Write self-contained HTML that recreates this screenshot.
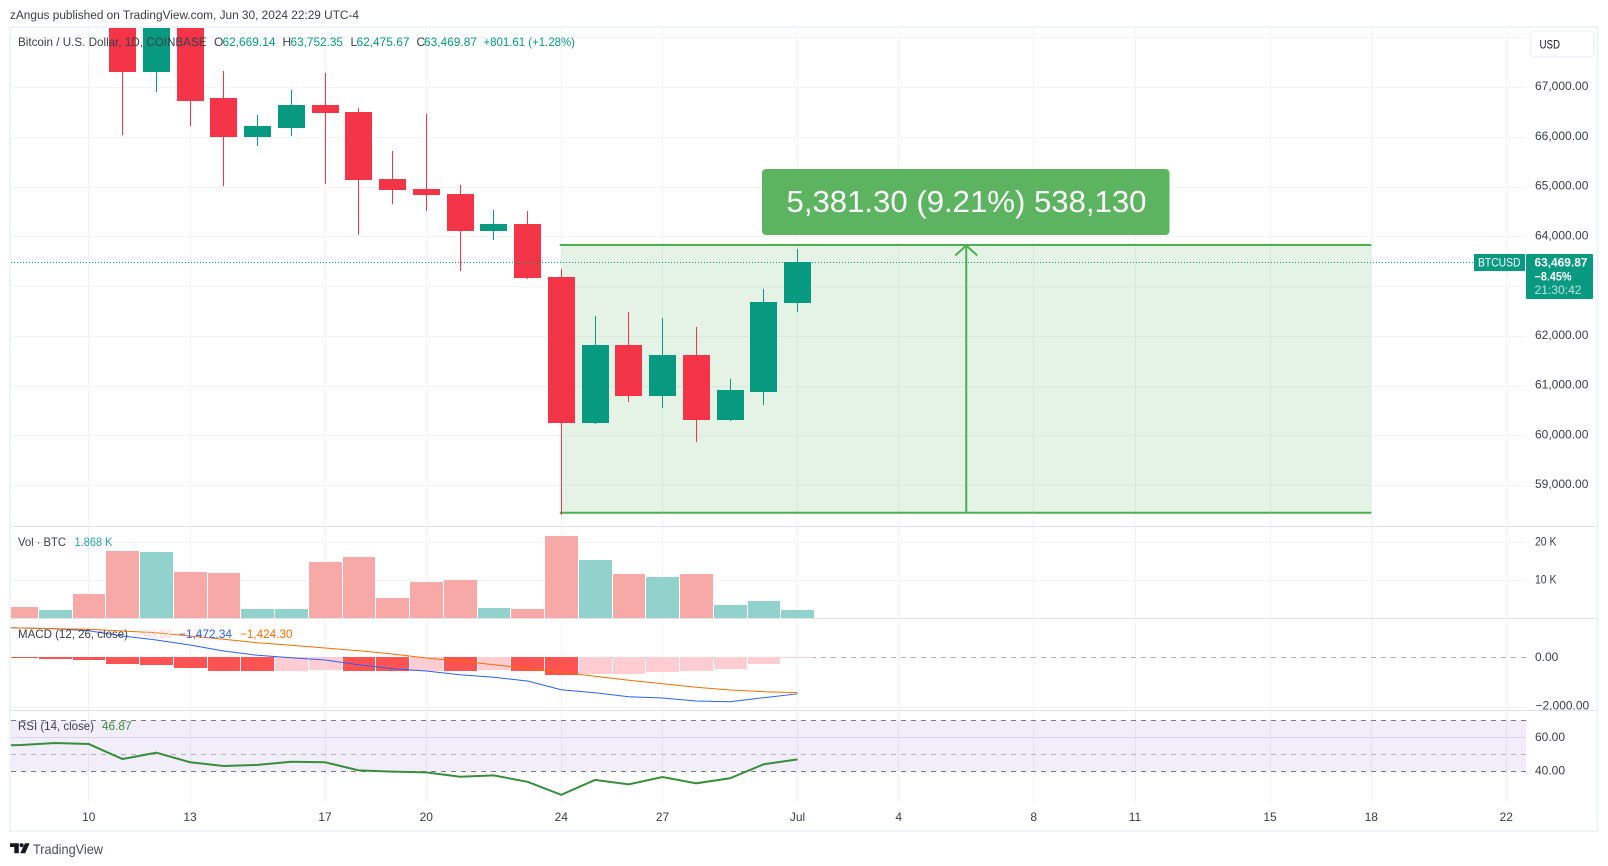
<!DOCTYPE html>
<html lang="en">
<head>
<meta charset="utf-8">
<title>BTCUSD chart</title>
<style>
html,body{margin:0;padding:0;background:#fff;width:1608px;height:866px;overflow:hidden}
svg{display:block;font-family:"Liberation Sans",sans-serif}
text{white-space:pre}
.crisp{shape-rendering:crispEdges}
</style>
</head>
<body>
<svg id="chart" xmlns="http://www.w3.org/2000/svg" width="1608" height="866" viewBox="0 0 1608 866">
  <defs>
    <clipPath id="price-clip"><rect x="11" y="28" width="1515" height="498"/></clipPath>
    <clipPath id="vol-clip"><rect x="11" y="527" width="1515" height="91"/></clipPath>
    <clipPath id="macd-clip"><rect x="11" y="619" width="1515" height="91"/></clipPath>
    <clipPath id="rsi-clip"><rect x="11" y="711" width="1515" height="92"/></clipPath>
  </defs>
  <rect x="0" y="0" width="1608" height="866" fill="#ffffff"/>
  <g id="grid-layer" class="crisp"></g>
  <g id="rsi-band-layer"></g>
  <g id="tool-layer" clip-path="url(#price-clip)"></g>
  <g id="candle-layer" class="crisp" clip-path="url(#price-clip)"></g>
  <g id="vol-layer" class="crisp" clip-path="url(#vol-clip)"></g>
  <g id="macd-layer" clip-path="url(#macd-clip)"></g>
  <g id="rsi-layer" clip-path="url(#rsi-clip)"></g>
  <g id="axis-layer"></g>

  <rect class="crisp" x="11" y="526" width="1586" height="1" fill="#e0e3eb"/>
  <rect class="crisp" x="11" y="618" width="1586" height="1" fill="#e0e3eb"/>
  <rect class="crisp" x="11" y="710" width="1586" height="1" fill="#e0e3eb"/>
  <rect class="crisp" x="10" y="27" width="1587.5" height="804" fill="none" stroke="#f0f3fa" stroke-width="2"/>

  <text x="10" y="19" font-size="11.5" fill="#3a3e48" textLength="349" lengthAdjust="spacingAndGlyphs">zAngus published on TradingView.com, Jun 30, 2024 22:29 UTC-4</text>

  <g font-size="12">
    <text x="18" y="46" fill="#3a3e48" textLength="188.5" lengthAdjust="spacingAndGlyphs">Bitcoin / U.S. Dollar, 1D, COINBASE</text>
    <text x="214" y="46" fill="#3a3e48">O</text>
    <text x="222.5" y="46" fill="#089981" textLength="53" lengthAdjust="spacingAndGlyphs">62,669.14</text>
    <text x="282.5" y="46" fill="#3a3e48">H</text>
    <text x="290.5" y="46" fill="#089981" textLength="52.5" lengthAdjust="spacingAndGlyphs">63,752.35</text>
    <text x="350.5" y="46" fill="#3a3e48">L</text>
    <text x="356.5" y="46" fill="#089981" textLength="53" lengthAdjust="spacingAndGlyphs">62,475.67</text>
    <text x="416.5" y="46" fill="#3a3e48">C</text>
    <text x="424" y="46" fill="#089981" textLength="53" lengthAdjust="spacingAndGlyphs">63,469.87</text>
    <text x="483.5" y="46" fill="#089981" textLength="91.5" lengthAdjust="spacingAndGlyphs">+801.61 (+1.28%)</text>
  </g>

  <g font-size="12">
    <text x="18" y="546" fill="#3a3e48" textLength="48" lengthAdjust="spacingAndGlyphs">Vol · BTC</text>
    <text x="74.5" y="546" fill="#26a69a" textLength="38" lengthAdjust="spacingAndGlyphs">1.868 K</text>
  </g>

  <g font-size="12">
    <text x="18" y="638" fill="#3a3e48" textLength="110" lengthAdjust="spacingAndGlyphs">MACD (12, 26, close)</text>
    <text x="137" y="638" fill="#ffcdd2" textLength="35" lengthAdjust="spacingAndGlyphs">−48.03</text>
    <text x="179" y="638" fill="#2962ff" textLength="53" lengthAdjust="spacingAndGlyphs">−1,472.34</text>
    <text x="240" y="638" fill="#ff6d00" textLength="52.5" lengthAdjust="spacingAndGlyphs">−1,424.30</text>
  </g>

  <g font-size="12">
    <text x="18" y="730" fill="#3a3e48" textLength="76" lengthAdjust="spacingAndGlyphs">RSI (14, close)</text>
    <text x="102" y="730" fill="#388e3c" textLength="29.5" lengthAdjust="spacingAndGlyphs">46.87</text>
  </g>

  <g>
    <rect x="1530.5" y="31" width="63.5" height="26" rx="4" fill="#ffffff" stroke="#f0f3fa" stroke-width="1.6"/>
    <text x="1539.5" y="48.5" font-size="11.5" fill="#131722" textLength="20.5" lengthAdjust="spacingAndGlyphs">USD</text>
  </g>

  <g id="last-price-group">
    <rect class="crisp" x="1474" y="254" width="51" height="17" fill="#089981"/>
    <text x="1478" y="266.5" font-size="12" fill="#ffffff" textLength="42.5" lengthAdjust="spacingAndGlyphs">BTCUSD</text>
    <rect x="1526" y="254" width="67" height="45" rx="1" fill="#089981"/>
    <text x="1534.5" y="266.5" font-size="12" font-weight="700" fill="#ffffff" textLength="53" lengthAdjust="spacingAndGlyphs">63,469.87</text>
    <text x="1534.5" y="280.5" font-size="12" font-weight="700" fill="#ffffff" textLength="37" lengthAdjust="spacingAndGlyphs">−8.45%</text>
    <text x="1534.5" y="294" font-size="12" fill="#ffffff" fill-opacity="0.72" textLength="47" lengthAdjust="spacingAndGlyphs">21:30:42</text>
  </g>

  <g>
    <rect x="762" y="169" width="407.5" height="66" rx="4" fill="#5cb360"/>
    <text x="786.5" y="212" font-size="31" fill="#ffffff" textLength="360" lengthAdjust="spacingAndGlyphs">5,381.30 (9.21%) 538,130</text>
  </g>

  <g>
    <path d="M10 843.2h8.8v10h-4.5v-6.2H10z" fill="#131722"/>
    <circle cx="21.6" cy="845.2" r="2.1" fill="#131722"/>
    <path d="M25 843.2h4.6l-4.4 10h-5z" fill="#131722"/>
    <text x="33" y="854" font-size="14" fill="#4a4e59" textLength="70" lengthAdjust="spacingAndGlyphs">TradingView</text>
  </g>
</svg>

<script>
var dates = ['2024-06-07','2024-06-08','2024-06-09','2024-06-10','2024-06-11','2024-06-12','2024-06-13','2024-06-14','2024-06-15','2024-06-16','2024-06-17','2024-06-18','2024-06-19','2024-06-20','2024-06-21','2024-06-22','2024-06-23','2024-06-24','2024-06-25','2024-06-26','2024-06-27','2024-06-28','2024-06-29','2024-06-30','2024-07-01'];
var opens  = [70800,69350,69310,69650,69500,67307,68250,66759,66001,66182,66638,66483,65150,64936,64835,64112,64246,63167,60252,61800,60809,61613,60307,60880,62669.14];
var highs  = [71900,69500,69700,70150,69560,69999,68400,67322,66437,66940,67281,66578,65714,66457,65030,64528,64508,63342,62397,62477,62357,62176,61131,62940,63752.35];
var lows   = [68500,69200,69200,69200,66035,66905,66216,65016,65820,66021,65056,64025,64654,64514,63308,63931,63147,58402,60226,60674,60554,59870,60293,60614,62475.67];
var closes = [69350,69310,69650,69500,67307,68250,66725,66001,66196,66638,66483,65137,64936,64835,64112,64246,63167,60252,61800,60809,61613,60307,60890,62678,63469.87];
var volumes = [9.0,2.7,1.9,6.1,17.4,17.2,11.9,11.7,2.2,2.2,14.6,15.9,5.1,9.3,9.8,2.4,2.2,21.4,15.1,11.4,10.6,11.4,3.2,4.3,1.868];
var macdHist = [0,-25,-70,-120,-280,-320,-440,-550,-555,-550,-515,-550,-558,-550,-555,-515,-555,-715,-675,-670,-595,-555,-475,-280,-48.03];
var macdLine = [1200,1160,1132,1052,840,680,480,240,68,-28,-120,-308,-468,-560,-708,-812,-960,-1308,-1428,-1588,-1640,-1760,-1788,-1628,-1472.34];
var signalLine = [1200,1160,1132,1108,1040,972,840,708,572,468,360,252,120,-40,-160,-308,-452,-612,-772,-932,-1068,-1212,-1320,-1388,-1424.30];
var rsiValues = [55.1,55.4,56.6,56.0,47.1,50.9,45.2,43.0,43.6,45.5,45.2,40.4,39.6,39.2,36.6,37.4,33.6,25.9,34.7,32.1,36.4,32.7,35.7,44.0,46.87];
var priceTicks = [67000,66000,65000,64000,63000,62000,61000,60000,59000];
var priceTickLabels = ['67,000.00','66,000.00','65,000.00','64,000.00','','62,000.00','61,000.00','60,000.00','59,000.00'];
var priceGridExtra = [68000,63000];
var volTicks = [20,10];
var volTickLabels = ['20 K','10 K'];
var macdTicks = [0,-2000];
var macdTickLabels = ['0.00','−2,000.00'];
var rsiTicks = [60,40];
var rsiTickLabels = ['60.00','40.00'];
var timeTicks = ['2024-06-10','2024-06-13','2024-06-17','2024-06-20','2024-06-24','2024-06-27','2024-07-01','2024-07-04','2024-07-08','2024-07-11','2024-07-15','2024-07-18','2024-07-22'];
var timeTickLabels = ['10','13','17','20','24','27','Jul','4','8','11','15','18','22'];
var measureFrom = 58442.7;
var measureTo = 63824;
var measureStart = '2024-06-24';
var measureEnd = '2024-07-18';
var lastPrice = 63469.87;

var SVGNS = 'http://www.w3.org/2000/svg';
var UP = '#089981', DOWN = '#f43548';
var DAY = 864e5, REF = Date.parse('2024-06-24'), STEP = 33.75;

function xOf(d){ return 561.25 + (Date.parse(d) - REF) / DAY * STEP; }
function yPrice(p){ return 286 - (p - 63000) * 0.04975; }
function yVol(v){ return 617.5 - v * 3.8; }
function yMacd(m){ return 657 - m * 0.025; }
function yRsi(r){ return 737.3 - (r - 60) * 1.685; }
function barLeft(d){ return Math.ceil(xOf(d) - 16.5); }
function barWidth(d){ return Math.ceil(xOf(d) + STEP - 16.5) - barLeft(d) - 1; }

function mk(tag, parent, attrs){
  var el = document.createElementNS(SVGNS, tag);
  for (var k in attrs) el.setAttribute(k, attrs[k]);
  parent.appendChild(el);
  return el;
}
function layer(id){ return document.getElementById(id); }
function lineD(values, yFn){
  return values.map(function(v, i){ return (i ? 'L' : 'M') + xOf(dates[i]).toFixed(2) + ' ' + yFn(v).toFixed(2); }).join(' ');
}

var grid = layer('grid-layer');
timeTicks.forEach(function(d){
  var el = mk('rect', grid, {x: Math.floor(xOf(d)), y: 28, width: 1, height: 775, fill: '#f1f3f6'});
  
  
});
priceTicks.concat(priceGridExtra).forEach(function(p){
  var el = mk('rect', grid, {x: 11, y: Math.round(yPrice(p)), width: 1515, height: 1, fill: '#f1f3f6'});
  
  
});
volTicks.forEach(function(v){
  var el = mk('rect', grid, {x: 11, y: Math.round(yVol(v)), width: 1515, height: 1, fill: '#f1f3f6'});
  
  
});
macdTicks.slice(1).forEach(function(m){
  var el = mk('rect', grid, {x: 11, y: Math.round(yMacd(m)), width: 1515, height: 1, fill: '#f1f3f6'});
  
  
});
rsiTicks.slice(0, 1).forEach(function(r){
  var el = mk('rect', grid, {x: 11, y: Math.round(yRsi(r)), width: 1515, height: 1, fill: '#e6e4ee'});
  
  
});

var band = mk('rect', layer('rsi-band-layer'), {x: 11, y: yRsi(70), width: 1515, height: yRsi(40) - yRsi(70), fill: '#7e57c2', 'fill-opacity': 0.1});



var tool = layer('tool-layer');
var tx0 = xOf(measureStart), tx1 = xOf(measureEnd), ty0 = yPrice(measureTo), ty1 = yPrice(measureFrom), txm = (tx0 + tx1) / 2;
var toolFill = mk('rect', tool, {x: tx0, y: ty0, width: tx1 - tx0, height: ty1 - ty0, fill: '#4caf50', 'fill-opacity': 0.15});


var toolTop = mk('line', tool, {x1: tx0 - 1.5, x2: tx1, y1: ty0, y2: ty0, stroke: '#4caf50', 'stroke-width': 2});


var toolBottom = mk('line', tool, {x1: tx0 - 1.5, x2: tx1, y1: ty1, y2: ty1, stroke: '#4caf50', 'stroke-width': 2});


var toolArrow = mk('line', tool, {x1: txm, x2: txm, y1: ty1, y2: ty0, stroke: '#4caf50', 'stroke-width': 2});


var toolHead = mk('path', tool, {d: 'M' + (txm - 11) + ' ' + (ty0 + 10.5) + ' L' + txm + ' ' + (ty0 + 0.5) + ' L' + (txm + 11) + ' ' + (ty0 + 10.5), fill: 'none', stroke: '#4caf50', 'stroke-width': 2});



var candles = layer('candle-layer');
dates.forEach(function(d, i){
  var cx = xOf(d), col = closes[i] >= opens[i] ? UP : DOWN;
  var top = Math.floor(yPrice(Math.max(opens[i], closes[i])));
  var bot = Math.ceil(yPrice(Math.min(opens[i], closes[i])));
  var hi = Math.round(yPrice(highs[i])), lo = Math.round(yPrice(lows[i]));
  var wick = mk('rect', candles, {x: Math.floor(cx), y: hi, width: 1, height: lo - hi, fill: col});
  
  
  var body = mk('rect', candles, {x: Math.round(cx - 13.5), y: top, width: 27, height: Math.max(1, bot - top), fill: col});
  
  
});
var lastY = Math.floor(yPrice(lastPrice)) + 0.5;
var lastLine = mk('line', layer('candle-layer'), {x1: 11, x2: 1474, y1: lastY, y2: lastY, stroke: UP, 'stroke-width': 1, 'stroke-dasharray': '1 2'});



var vols = layer('vol-layer');
dates.forEach(function(d, i){
  var top = Math.round(yVol(volumes[i]));
  var bar = mk('rect', vols, {x: barLeft(d), y: top, width: barWidth(d), height: 618 - top, fill: closes[i] >= opens[i] ? '#92d2cc' : '#f7a9a7'});
  
  
});

var macdPane = layer('macd-layer');
var zero = mk('line', macdPane, {x1: 11, x2: 1526, y1: 657.5, y2: 657.5, stroke: '#b2b5be', 'stroke-width': 1, 'stroke-dasharray': '5 5'});


macdHist.forEach(function(m, i){
  var falling = i > 0 && m < macdHist[i - 1];
  var bot = Math.max(658, Math.round(yMacd(m)));
  var bar = mk('rect', macdPane, {x: barLeft(dates[i]), y: 657, width: barWidth(dates[i]), height: bot - 657, fill: falling ? '#ff5252' : '#ffcdd2', 'shape-rendering': 'crispEdges'});
  
  
});
var macdPath = mk('path', macdPane, {d: lineD(macdLine, yMacd), fill: 'none', stroke: '#2962ff', 'stroke-width': 1});


var signalPath = mk('path', macdPane, {d: lineD(signalLine, yMacd), fill: 'none', stroke: '#ff6d00', 'stroke-width': 1});



var rsiPane = layer('rsi-layer');
var r70 = mk('line', rsiPane, {x1: 11, x2: 1526, y1: 720.5, y2: 720.5, stroke: '#787b86', 'stroke-width': 1, 'stroke-dasharray': '5 5'});


var r50 = mk('line', rsiPane, {x1: 11, x2: 1526, y1: 754.5, y2: 754.5, stroke: '#b2b5be', 'stroke-width': 1, 'stroke-dasharray': '5 5'});


var r40 = mk('line', rsiPane, {x1: 11, x2: 1526, y1: 771.5, y2: 771.5, stroke: '#787b86', 'stroke-width': 1, 'stroke-dasharray': '5 5'});


var rsiPath = mk('path', rsiPane, {d: lineD(rsiValues, yRsi), fill: 'none', stroke: '#388e3c', 'stroke-width': 2});



var axes = layer('axis-layer');
function axisText(parent, x, y, str, anchor, fill, size){
  var t = mk('text', parent, {x: x, y: y, 'text-anchor': anchor, fill: fill, 'font-size': size});
  t.textContent = str;
  return t;
}
priceTicks.forEach(function(p, i){
  if (!priceTickLabels[i]) return;
  var t = axisText(axes, 1535, yPrice(p) + 3, priceTickLabels[i], 'start', '#3a3e48', 12);
  
  
});
volTicks.forEach(function(v, i){
  var t = axisText(axes, 1535, yVol(v) + 4, volTickLabels[i], 'start', '#3a3e48', 12);
  t.setAttribute('textLength', '21.5');
  t.setAttribute('lengthAdjust', 'spacingAndGlyphs');
  
  
});
macdTicks.forEach(function(m, i){
  var t = axisText(axes, m < 0 ? 1535.5 : 1535, yMacd(m) + (m < 0 ? 2.5 : 4), macdTickLabels[i], 'start', '#3a3e48', 12);
  
  
});
rsiTicks.forEach(function(r, i){
  var t = axisText(axes, 1535, yRsi(r) + 3.5, rsiTickLabels[i], 'start', '#3a3e48', 12);
  
  
});
timeTicks.forEach(function(d, i){
  var t = axisText(axes, xOf(d), 821, timeTickLabels[i], 'middle', '#3a3e48', 12);
  
  
});
</script>
</body>
</html>
